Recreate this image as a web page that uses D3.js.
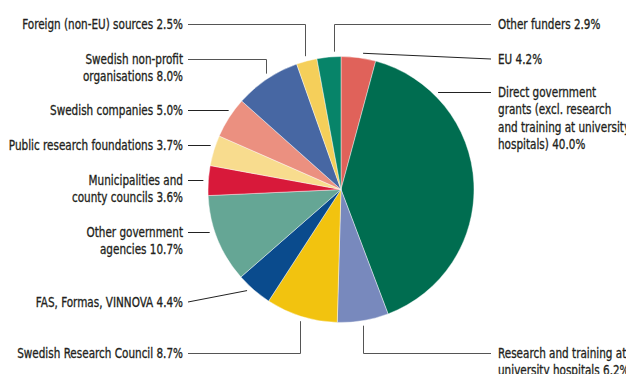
<!DOCTYPE html>
<html>
<head>
<meta charset="utf-8">
<script src="https://cdn.jsdelivr.net/npm/d3@7"></script>
<style>
  html, body { margin: 0; padding: 0; background: #fff; }
  svg { display: block; }
  text { font-family: "DejaVu Sans Condensed", "DejaVu Sans", sans-serif; font-stretch: condensed; font-size: 13.5px; fill: #231f20; stroke: #231f20; stroke-width: 0.3px; }
</style>
</head>
<body>
<svg id="chart" width="626" height="374"></svg>
<script>
// Funding sources, clockwise from 12 o'clock (percent of total)
const categories = [
  "EU",
  "Direct government grants (excl. research and training at university hospitals)",
  "Research and training at university hospitals",
  "Swedish Research Council",
  "FAS, Formas, VINNOVA",
  "Other government agencies",
  "Municipalities and county councils",
  "Public research foundations",
  "Swedish companies",
  "Swedish non-profit organisations",
  "Foreign (non-EU) sources",
  "Other funders"
];
const shares = [4.2, 40.0, 6.2, 8.7, 4.4, 10.7, 3.6, 3.7, 5.0, 8.0, 2.5, 2.9];
const colors = ["#e0625a", "#006d50", "#7889bd", "#f2c30f", "#0a4b8d", "#65a695",
                "#d8193a", "#f8dc8e", "#eb9080", "#4767a3", "#f5cf5a", "#078469"];

// Label text lines (the share is appended to the last line)
const labelLines = [
  ["EU"],
  ["Direct government", "grants (excl. research", "and training at university", "hospitals)"],
  ["Research and training at", "university hospitals"],
  ["Swedish Research Council"],
  ["FAS, Formas, VINNOVA"],
  ["Other government", "agencies"],
  ["Municipalities and", "county councils"],
  ["Public research foundations"],
  ["Swedish companies"],
  ["Swedish non-profit", "organisations"],
  ["Foreign (non-EU) sources"],
  ["Other funders"]
];

// Callout layout: where the leader leaves the pie (degrees clockwise from top),
// which side the label sits on, the label's first-line y, and the elbow type.
const callouts = [
  { angle: 9.2,   side: "right", y: 59,  kind: "straight" },
  { angle: 44.7,  side: "right", y: 92,  kind: "flat" },
  { angle: 170.7, side: "right", y: 353, kind: "elbow" },
  { angle: 197.4, side: "left",  y: 353, kind: "elbow" },
  { angle: 222.9, side: "left",  y: 302, kind: "straight" },
  { angle: 252.1, side: "left",  y: 232, kind: "flat" },
  { angle: 274.2, side: "left",  y: 180, kind: "flat" },
  { angle: 289.2, side: "left",  y: 145, kind: "flat" },
  { angle: 305.5, side: "left",  y: 110, kind: "flat" },
  { angle: 327.1, side: "left",  y: 59,  kind: "elbow" },
  { angle: 345.0, side: "left",  y: 24,  kind: "elbow" },
  { angle: 357.1, side: "right", y: 24,  kind: "elbow" }
];

const cx = 341, cy = 189.5, radius = 133, leaderR = 138;
const leftLineX = 188, rightLineX = 491;
const leftTextX = 183, rightTextX = 498;
const lineHeight = 17.3;
const narrow = 0.86;   // extra horizontal squeeze for a condensed look

const svg = d3.select("#chart");
const g = svg.append("g").attr("transform", `translate(${cx},${cy})`);

const data = categories.map((c, i) => ({ name: c, value: shares[i], color: colors[i], i }));

const pie = d3.pie().sort(null).value(d => d.value).startAngle(0).endAngle(2 * Math.PI);
const arc = d3.arc().innerRadius(0).outerRadius(radius);

g.selectAll("path.slice")
  .data(pie(data))
  .join("path")
  .attr("class", "slice")
  .attr("d", arc)
  .attr("fill", d => d.data.color)
  .attr("stroke", "#ffffff")
  .attr("stroke-width", 0.6)
  .attr("stroke-opacity", 0.7);

// Leader lines and labels
const fmt = d3.format(".1f");
const toRad = a => a * Math.PI / 180;

callouts.forEach((c, i) => {
  const a = toRad(c.angle);
  const px = cx + leaderR * Math.sin(a);
  const py = cy - leaderR * Math.cos(a);
  const endX = c.side === "right" ? rightLineX : leftLineX;
  let pts;
  if (c.kind === "elbow") {
    const ex = Math.round(px) + 0.5;
    pts = [[ex, py], [ex, c.y + 0.5], [endX, c.y + 0.5]];
  } else if (c.kind === "flat") {
    pts = [[px, c.y + 0.5], [endX, c.y + 0.5]];
  } else {
    pts = [[px, py], [endX, c.y]];
  }
  svg.append("path")
    .attr("d", d3.line()(pts))
    .attr("fill", "none")
    .attr("stroke", c.kind === "elbow" ? "#555" : "#222")
    .attr("stroke-width", 1);

  const lines = labelLines[i].slice();
  const last = lines.length - 1;
  lines[last] = lines[last] + " " + fmt(shares[i]) + "%";
  const tx = c.side === "right" ? rightTextX : leftTextX;
  const t = svg.append("text")
    .attr("transform", `translate(${tx},0) scale(${narrow},1)`)
    .attr("text-anchor", c.side === "right" ? "start" : "end");
  lines.forEach((ln, k) => {
    t.append("tspan")
      .attr("x", 0)
      .attr("y", c.y + 5 + k * lineHeight)
      .text(ln);
  });
});
</script>
</body>
</html>
